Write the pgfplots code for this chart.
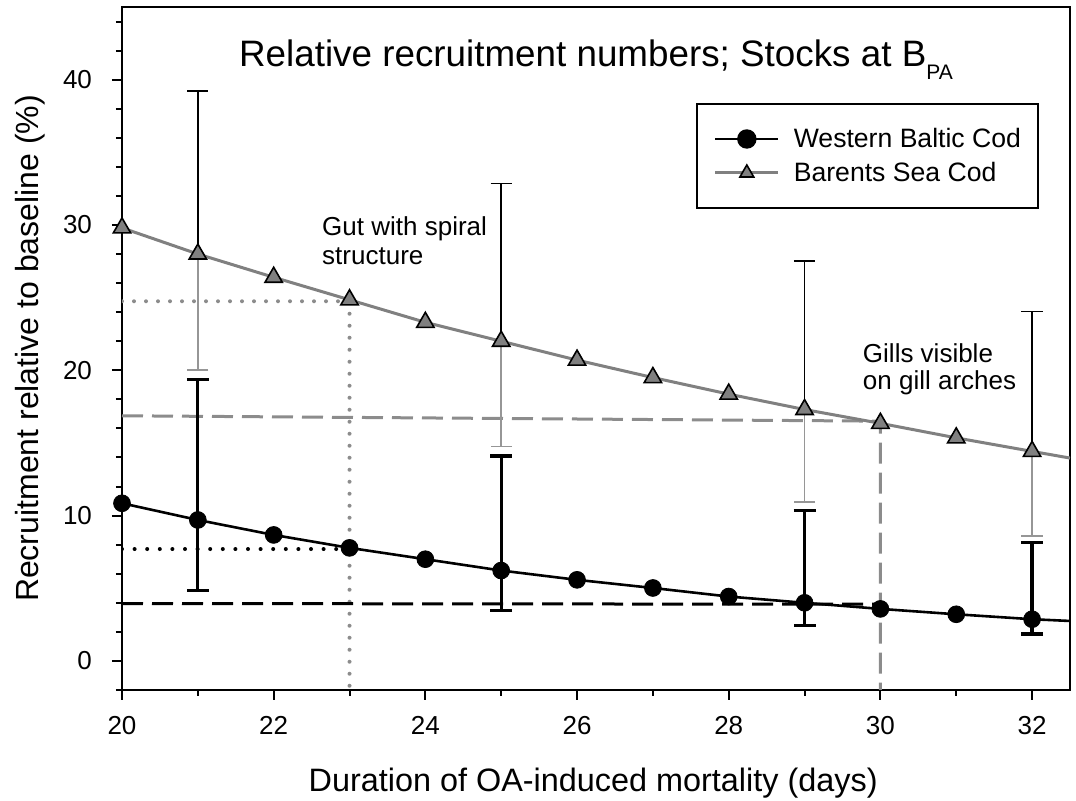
\documentclass[border=0pt]{standalone}
\usepackage{fontspec}
\setmainfont{Liberation Sans}
\usepackage{pgfplots}
\pgfplotsset{compat=1.18}
\usetikzlibrary{calc}
\definecolor{midgray}{RGB}{128,128,128}
\definecolor{refgray}{RGB}{140,140,140}
\definecolor{bargray}{RGB}{150,150,150}

\pgfplotstableread{
x y
20 10.85
21 9.7
22 8.67
23 7.78
24 7.0
25 6.22
26 5.58
27 5.02
28 4.43
29 4.0
30 3.58
31 3.21
32 2.87
32.5 2.75
}\westline

\pgfplotstableread{
x y
20 10.85
21 9.7
22 8.67
23 7.78
24 7.0
25 6.22
26 5.58
27 5.02
28 4.43
29 4.0
30 3.58
31 3.21
32 2.87
}\westpts

\pgfplotstableread{
x y
20 29.8
21 28.0
22 26.4
23 24.85
24 23.3
25 22.0
26 20.7
27 19.5
28 18.36
29 17.3
30 16.35
31 15.35
32 14.42
32.5 13.96
}\barline

\pgfplotstableread{
x y
20 29.8
21 28.0
22 26.4
23 24.85
24 23.3
25 22.0
26 20.7
27 19.5
28 18.36
29 17.3
30 16.35
31 15.35
32 14.42
}\barpts

\pgfplotstableread{
x y p m
21 9.7 9.65 4.85
25 6.22 7.88 2.77
29 4.0 6.35 1.55
32 2.87 5.28 1.02
}\westerr

\pgfplotstableread{
x y p m
21 28.0 11.2 8.0
25 22.0 10.85 7.25
29 17.3 10.2 6.35
32 14.42 9.63 5.82
}\barerr

\newcommand{\tickfont}{\fontsize{13}{15}\selectfont}

\begin{document}
\begin{tikzpicture}
\begin{axis}[
  scale only axis, width=474pt, height=341.5pt,
  xmin=20, xmax=32.5, ymin=-2, ymax=45,
  axis line style={line width=1pt},
  tick align=outside, tick pos=left,
  xtick={20,22,...,32}, minor xtick={21,23,...,31},
  ytick={0,10,...,40}, minor ytick={-2,0,...,44},
  major tick length=5pt, minor tick length=3pt,
  every tick/.style={black, line width=1pt},
  every tick label/.append style={font=\tickfont},
  xticklabel={\tickfont\pgfmathprintnumber[assume math mode=true]{\tick}},
  yticklabel={\tickfont\pgfmathprintnumber[assume math mode=true]{\tick}},
  xticklabel shift=4.5pt,
  yticklabel shift=6.5pt,
  title={Relative recruitment numbers; Stocks at B\raisebox{-6.5pt}{\fontsize{10.5}{12}\selectfont PA}},
  title style={at={(axis description cs:0.5,0.8946)}, anchor=base, inner sep=0pt, font=\fontsize{18.4}{22}\selectfont},
  xlabel={Duration of OA-induced mortality (days)},
  xlabel style={at={(axis description cs:0.497,-0.14934)}, anchor=base, inner sep=0pt, font=\fontsize{16.2}{19}\selectfont},
  ylabel={Recruitment relative to baseline (\%)},
  ylabel style={at={(axis description cs:-0.08755,0.5)}, anchor=base, inner sep=0pt, font=\fontsize{16}{19}\selectfont},
  legend style={at={(axis description cs:1,1)}, anchor=north east, xshift=-15.5pt, yshift=-48pt,
    draw=black, line width=1pt, fill=white, inner xsep=8.5pt, inner ysep=10pt, row sep=2pt,
    font=\fontsize{13.3}{15}\selectfont,
    nodes={inner sep=0pt, text height=12pt, text depth=3pt},
    /tikz/every odd column/.append style={column sep=7pt}},
  legend cell align=left,
  legend image code/.code={\draw[mark repeat=2, mark phase=2, #1] plot coordinates {(0pt,0pt) (15.75pt,0pt) (31.5pt,0pt)};},
]
\coordinate (bl) at (rel axis cs:0,0);
\coordinate (tr) at (rel axis cs:1,1);

% reference lines
\addplot[refgray, line width=2pt, line cap=round, dash pattern=on 0pt off 6pt, forget plot] coordinates {(20,24.75) (23,24.75) (23,-2)};
\addplot[black, line width=2pt, line cap=round, dash pattern=on 0pt off 6.3pt, forget plot] coordinates {(20,7.7) (23,7.7)};
\addplot[refgray, line width=1.5pt, dash pattern=on 10.5pt off 4.5pt, forget plot] coordinates {(20,16.87) (30,16.5) (30,-2)};
\addplot[black, line width=1.5pt, dash pattern=on 10.5pt off 4.5pt, forget plot] coordinates {(20,3.95) (30,3.9)};

% error bars
\addplot[draw=none, mark=none, forget plot,
  error bars/.cd, y dir=plus, y explicit,
  error bar style={draw=black, line width=0.85pt},
  error mark options={draw=black, line width=0.85pt, mark size=5.3pt, rotate=90}]
  table[x=x, y=y, y error plus=p] {\barerr};
\addplot[draw=none, mark=none, forget plot,
  error bars/.cd, y dir=minus, y explicit,
  error bar style={draw=bargray, line width=0.85pt},
  error mark options={draw=bargray, line width=0.85pt, mark size=5.3pt, rotate=90}]
  table[x=x, y=y, y error minus=m] {\barerr};
\addplot[draw=none, mark=none, forget plot,
  error bars/.cd, y dir=both, y explicit,
  error bar style={draw=black, line width=1.6pt},
  error mark options={draw=black, line width=1.6pt, mark size=5.5pt, rotate=90}]
  table[x=x, y=y, y error plus=p, y error minus=m] {\westerr};

% curves
\addplot[midgray, line width=1.5pt, forget plot] table[x=x, y=y] {\barline};
\addplot[black, line width=1.3pt, forget plot] table[x=x, y=y] {\westline};

% markers
\addplot[only marks, mark=triangle*, mark size=5pt, mark options={fill=midgray, draw=black, line width=0.8pt}, forget plot] table[x=x, y=y] {\barpts};
\addplot[only marks, mark=*, mark size=4.2pt, black, forget plot] table[x=x, y=y] {\westpts};

% annotations
\node[anchor=base west, inner sep=0pt, font=\fontsize{13}{15}\selectfont] at (axis cs:22.635,29.26) {Gut with spiral};
\node[anchor=base west, inner sep=0pt, font=\fontsize{13}{15}\selectfont] at (axis cs:22.635,27.26) {structure};
\node[anchor=base west, inner sep=0pt, font=\fontsize{13}{15}\selectfont] at (axis cs:29.765,20.52) {Gills visible};
\node[anchor=base west, inner sep=0pt, font=\fontsize{13}{15}\selectfont] at (axis cs:29.765,18.66) {on gill arches};

% legend
\addlegendimage{black, line width=1.3pt, mark=*, mark size=4.2pt, mark options={solid}}
\addlegendentry{Western Baltic Cod}
\addlegendimage{midgray, line width=1.5pt, mark=triangle*, mark size=4pt, mark options={fill=midgray, draw=black, line width=0.8pt}}
\addlegendentry{Barents Sea Cod}
\end{axis}
\pgfresetboundingbox
\path[use as bounding box] ($(bl)+(-61pt,-55.5pt)$) rectangle ($(tr)+(3pt,3.5pt)$);
\end{tikzpicture}
\end{document}
